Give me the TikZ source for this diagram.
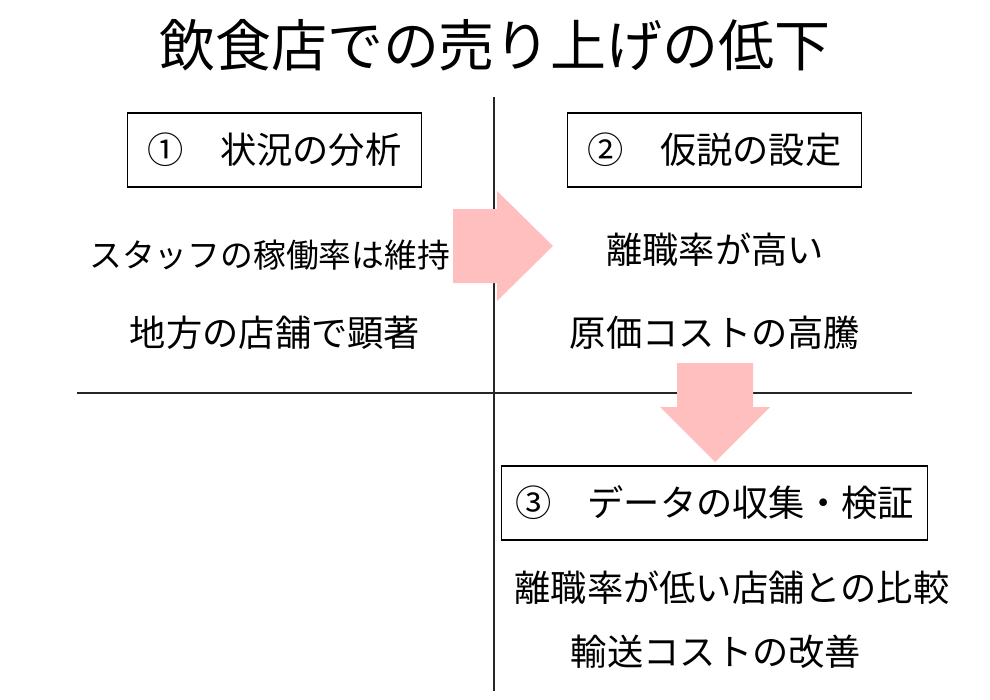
\documentclass[tikz,border=0pt]{standalone}
\usepackage{fontspec}
\setmainfont{Noto Sans CJK JP}
\begin{document}
\begin{tikzpicture}[x=0.75pt,y=-0.75pt,
  body/.style={inner sep=0pt, font=\fontsize{27.2}{32}\selectfont},
  box/.style={draw=black, line width=0.9pt, minimum height=55.5pt, inner sep=0pt, font=\fontsize{27.2}{32}\selectfont},
  divider/.style={draw=black!85, line width=0.9pt},
  bigarrow/.style={fill=red!25}]
\useasboundingbox (0,0) rectangle (990,700);
\node[inner sep=0pt, font=\fontsize{42}{48}\selectfont] (title) at (495,45) {飲食店での売り上げの低下};
% dividers
\coordinate (vt) at (494,97);
\coordinate (vb) at (494,691);
\coordinate (hl) at (77,393);
\coordinate (hr) at (912,393);
\draw[divider] (vt) -- (vb);
\draw[divider] (hl) -- (hr);
% boxes
\node[box, minimum width=221pt] (b1) at (274.5,150) {①\hspace{1em}状況の分析};
\node[box, minimum width=221pt] (b2) at (714.5,150) {②\hspace{1em}仮説の設定};
\node[box, minimum width=320pt] (b3) at (714.5,503) {③\hspace{1em}データの収集・検証};
% body texts
\node[body, anchor=west, font=\fontsize{24.6}{30}\selectfont] (t1) at (89,255) {スタッフの稼働率は維持};
\node[body] (t2) at (275,333) {地方の店舗で顕著};
\node[body] (t3) at (715,250) {離職率が高い};
\node[body] (t4) at (715,333) {原価コストの高騰};
\node[body] (t5) at (732,588) {離職率が低い店舗との比較};
\node[body] (t6) at (716,652) {輸送コストの改善};
% arrows
\fill[bigarrow] (453,209) -- (497,209) -- (497,191) -- (553,246) -- (497,301) -- (497,283) -- (453,283) -- cycle;
\fill[bigarrow] (677,363) -- (753,363) -- (753,407) -- (770,407) -- (715,462) -- (660,407) -- (677,407) -- cycle;
\end{tikzpicture}
\end{document}
